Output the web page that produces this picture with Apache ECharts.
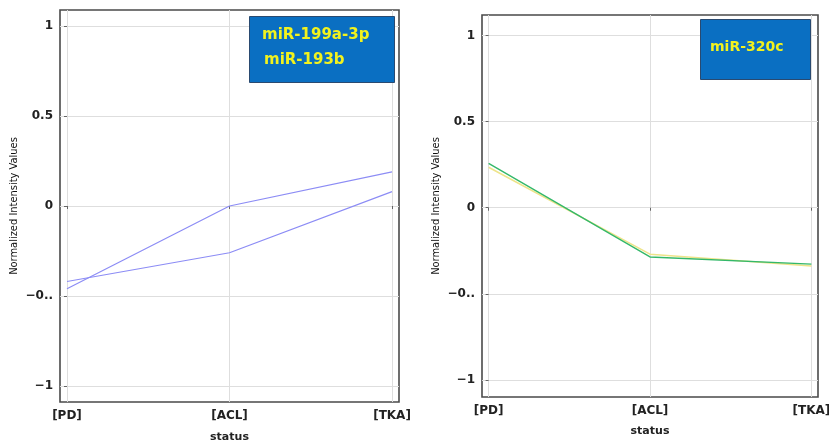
<!DOCTYPE html>
<html>
<head>
<meta charset="utf-8">
<script src="https://cdn.jsdelivr.net/npm/echarts@6/dist/echarts.min.js"></script>
<style>
  html, body { margin: 0; padding: 0; background: #fff; }
  #chart { width: 829px; height: 441px; }
</style>
</head>
<body>
<div id="chart"></div>
<script>
// categories on the x axis
var statusLabels = ['[PD]', '[ACL]', '[TKA]'];
var statusPos = [0, 1, 2];

// y tick values and their printed labels
var yTicks = [-1, -0.5, 0, 0.5, 1];
var yTickLabels = ['\u22121', '\u22120..', '0', '0.5', '1'];

// left panel: miR-199a-3p, miR-193b
var mir199a = [-0.46, 0.0, 0.19];
var mir193b = [-0.42, -0.26, 0.08];

// right panel: miR-320c (two nearly identical probes)
var mir320cA = [0.235, -0.27, -0.338];
var mir320cB = [0.258, -0.286, -0.328];

var leftNames = ['miR-199a-3p', 'miR-193b'];
var rightNames = ['miR-320c'];

function pairs(vals) {
    return vals.map(function (v, i) { return [statusPos[i], v]; });
}

var tickFont = { fontFamily: 'DejaVu Sans', fontSize: 12, fontWeight: 'bold', color: '#222' };

function xAxisFor(gridIndex, pad, gap) {
    return {
        type: 'value',
        gridIndex: gridIndex,
        min: -pad,
        max: 2 + pad,
        name: 'status',
        nameLocation: 'middle',
        nameGap: gap,
        nameTextStyle: { fontFamily: 'DejaVu Sans', fontSize: 11, fontWeight: 'bold', color: '#222' },
        axisLine: { show: false },
        axisTick: { show: true, customValues: statusPos, length: 3, lineStyle: { color: '#666' } },
        axisLabel: {
            customValues: statusPos,
            margin: 8,
            fontFamily: 'DejaVu Sans',
            fontSize: 12,
            fontWeight: 'bold',
            color: '#222',
            formatter: function (v) { return statusLabels[Math.round(v)]; }
        },
        splitLine: { show: true, lineStyle: { color: '#dedede', width: 1 } }
    };
}

function yAxisFor(gridIndex, min, max) {
    return {
        type: 'value',
        gridIndex: gridIndex,
        min: min,
        max: max,
        name: 'Normalized Intensity Values',
        nameLocation: 'middle',
        nameGap: 40,
        nameTextStyle: { fontFamily: '"DejaVu Sans Condensed", "Liberation Sans"', fontSize: 11, color: '#111' },
        axisLine: { show: false },
        axisTick: { show: true, customValues: yTicks, length: 3, lineStyle: { color: '#666' } },
        axisLabel: Object.assign({
            customValues: yTicks,
            margin: 7,
            formatter: function (v) { return yTickLabels[yTicks.indexOf(v)]; }
        }, tickFont),
        splitLine: { show: true, lineStyle: { color: '#dedede', width: 1 } }
    };
}

var option = {
    backgroundColor: '#fff',
    animation: false,
    grid: [
        { left: 60, top: 10, width: 339, height: 392, outerBoundsMode: 'none', show: true, borderColor: '#4a4a4a', borderWidth: 1.6, backgroundColor: 'transparent' },
        { left: 482, top: 15, width: 336, height: 382, outerBoundsMode: 'none', show: true, borderColor: '#4a4a4a', borderWidth: 1.6, backgroundColor: 'transparent' }
    ],
    xAxis: [xAxisFor(0, 0.043, 30), xAxisFor(1, 0.041, 29)],
    yAxis: [yAxisFor(0, -1.09, 1.09), yAxisFor(1, -1.1, 1.12)],
    series: [
        {
            name: leftNames[0], type: 'line', xAxisIndex: 0, yAxisIndex: 0,
            data: pairs(mir199a), showSymbol: false,
            lineStyle: { color: '#8c8cf5', width: 1.2 }
        },
        {
            name: leftNames[1], type: 'line', xAxisIndex: 0, yAxisIndex: 0,
            data: pairs(mir193b), showSymbol: false,
            lineStyle: { color: '#8c8cf5', width: 1.2 }
        },
        {
            name: rightNames[0], type: 'line', xAxisIndex: 1, yAxisIndex: 1,
            data: pairs(mir320cA), showSymbol: false,
            lineStyle: { color: '#eee48a', width: 1.5 }
        },
        {
            name: rightNames[0], type: 'line', xAxisIndex: 1, yAxisIndex: 1,
            data: pairs(mir320cB), showSymbol: false,
            lineStyle: { color: '#34b86a', width: 1.4 }
        }
    ],
    // label boxes drawn over the plots
    graphic: [
        {
            type: 'rect', left: 249, top: 16, z: 100, shape: { width: 145, height: 66 },
            style: { fill: '#0a6fc2', stroke: '#2a4a70', lineWidth: 1 }
        },
        {
            type: 'text', left: 262, top: 28, z: 101,
            style: { text: leftNames[0], fill: '#f2f21e', font: 'bold 15px "DejaVu Sans"' }
        },
        {
            type: 'text', left: 264, top: 53, z: 101,
            style: { text: leftNames[1], fill: '#f2f21e', font: 'bold 15px "DejaVu Sans"' }
        },
        {
            type: 'rect', left: 700, top: 19, z: 100, shape: { width: 110, height: 60 },
            style: { fill: '#0a6fc2', stroke: '#2a4a70', lineWidth: 1 }
        },
        {
            type: 'text', left: 710, top: 40, z: 101,
            style: { text: rightNames[0], fill: '#f2f21e', font: 'bold 14px "DejaVu Sans"' }
        }
    ]
};

var chart = echarts.init(document.getElementById('chart'), null, { renderer: 'canvas' });
chart.setOption(option);
</script>
</body>
</html>
